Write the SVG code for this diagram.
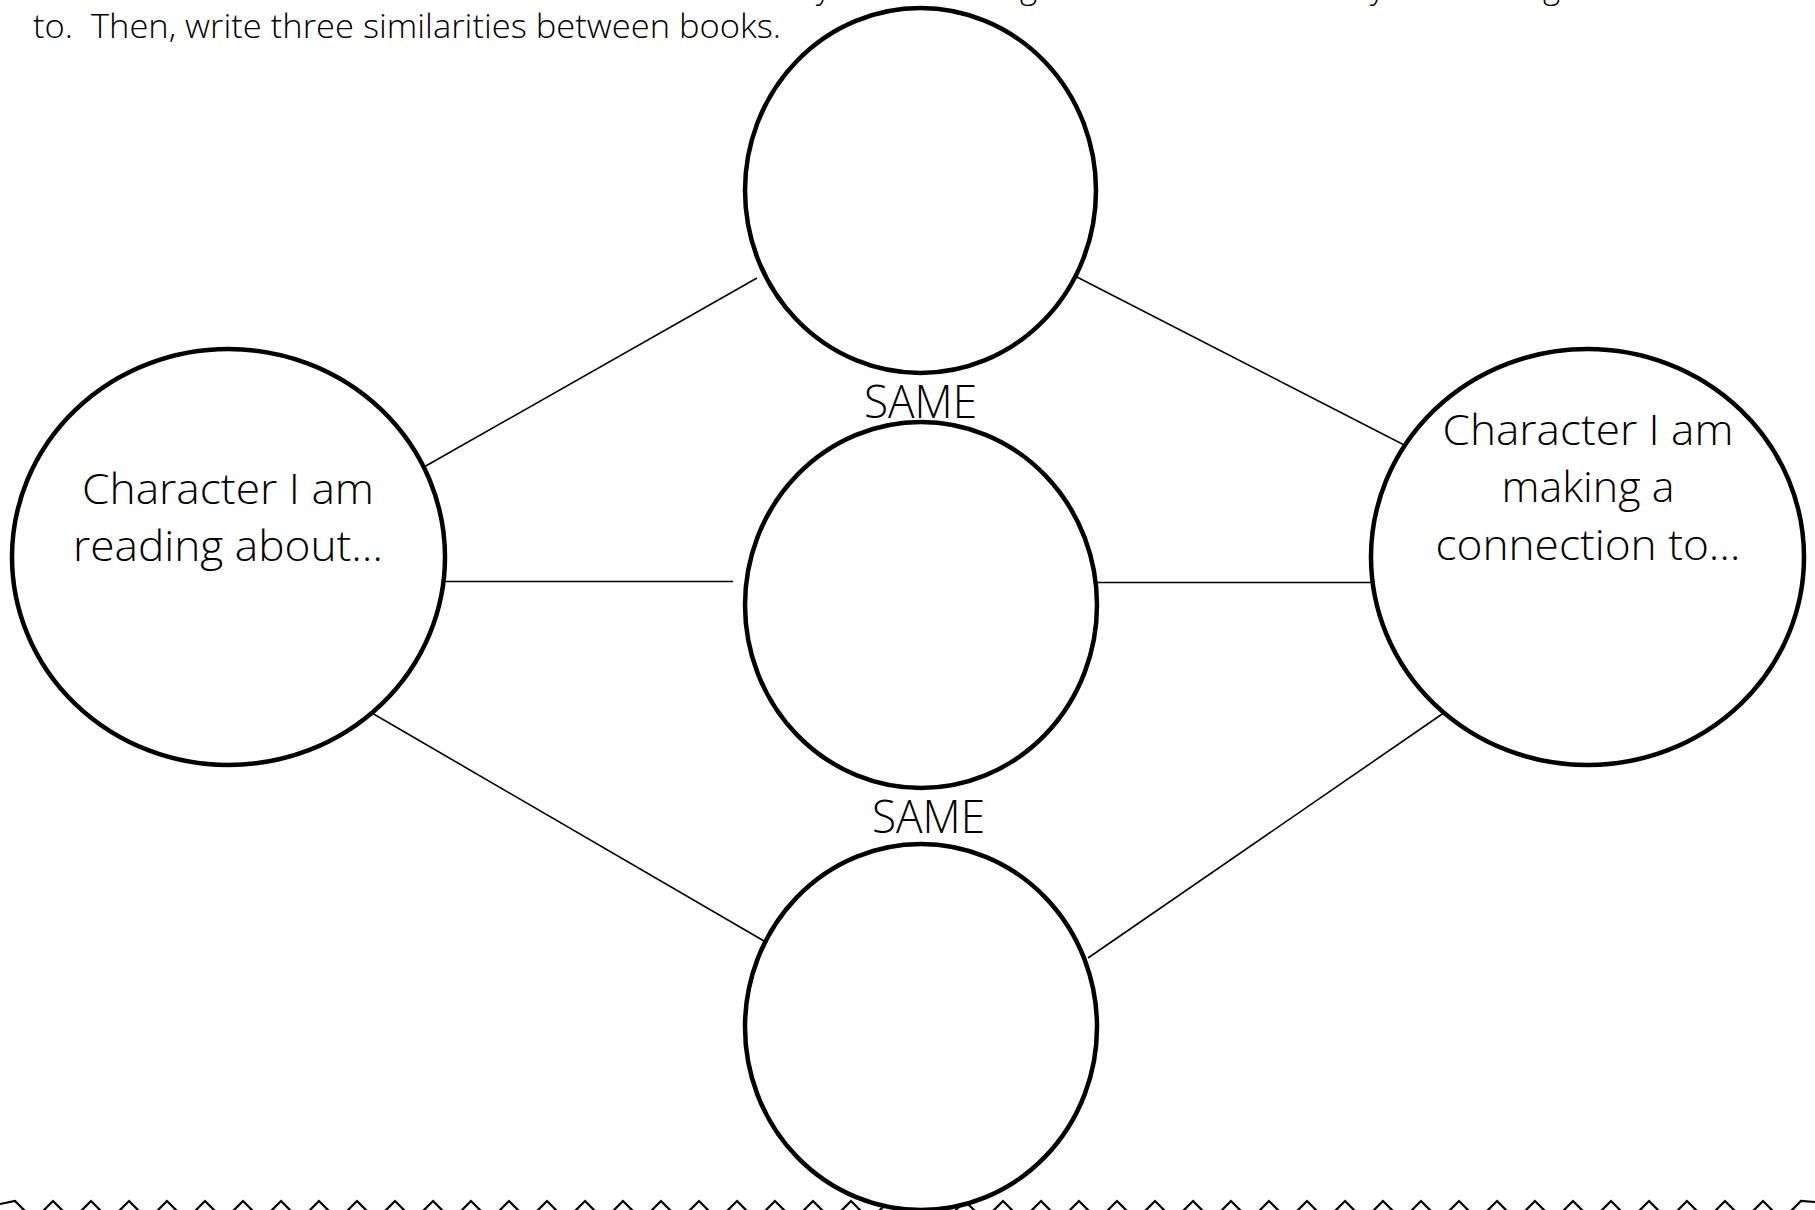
<svg xmlns="http://www.w3.org/2000/svg" width="1815" height="1210" viewBox="0 0 1815 1210">
<style>
text { font-family: "Open Sans", "Noto Sans", "Liberation Sans", sans-serif; font-weight: 300; fill: #000; }
.label { font-size: 43px; text-anchor: middle; }
.same { font-size: 46px; text-anchor: middle; }
.instr { font-size: 33px; white-space: pre; }
.node { fill: #fff; stroke: #000; stroke-width: 4.5; }
.conn { stroke: #000; stroke-width: 1.6; fill: none; }
.zig { stroke: #000; stroke-width: 2.2; fill: none; stroke-linejoin: miter; }
</style>
<rect width="1815" height="1210" fill="#fff"/>
<g id="header">
  <text class="instr" x="816" y="-2">y</text>
  <text class="instr" x="1020" y="-2">g</text>
  <text class="instr" x="1370" y="-2">y</text>
  <text class="instr" x="1543" y="-2">g</text>
  <text class="instr" x="33" y="38" textLength="748" lengthAdjust="spacingAndGlyphs" xml:space="preserve">to.  Then, write three similarities between books.</text>
</g>
<g id="border">
  <polyline class="zig" points="0,1204 15,1201 34,1220 53,1201 72,1220 91,1201 110,1220 129,1201 148,1220 167,1201 186,1220 205,1201 224,1220 243,1201 262,1220 281,1201 300,1220 319,1201 338,1220 357,1201 376,1220 395,1201 414,1220 433,1201 452,1220 471,1201 490,1220 509,1201 528,1220 547,1201 566,1220 585,1201 604,1220 623,1201 642,1220 661,1201 680,1220 699,1201 718,1220 737,1201 756,1220 775,1201 794,1220 813,1201 832,1220 851,1201 870,1220 889,1201 908,1220 927,1201 946,1220 965,1201 984,1220 1003,1201 1022,1220 1041,1201 1060,1220 1079,1201 1098,1220 1117,1201 1136,1220 1155,1201 1174,1220 1193,1201 1212,1220 1231,1201 1250,1220 1269,1201 1288,1220 1307,1201 1326,1220 1345,1201 1364,1220 1383,1201 1402,1220 1421,1201 1440,1220 1459,1201 1478,1220 1497,1201 1516,1220 1535,1201 1554,1220 1573,1201 1592,1220 1611,1201 1630,1220 1649,1201 1668,1220 1687,1201 1706,1220 1725,1201 1744,1220 1763,1201 1782,1220 1801,1201 1815,1202"/>
</g>
<g id="connectors">
  <line class="conn" x1="424" y1="467" x2="757" y2="278"/>
  <line class="conn" x1="1073" y1="275" x2="1410" y2="448"/>
  <line class="conn" x1="445" y1="581.5" x2="733" y2="581.5"/>
  <line class="conn" x1="1085" y1="582.5" x2="1371" y2="582.5"/>
  <line class="conn" x1="365" y1="709" x2="764" y2="941"/>
  <line class="conn" x1="1088" y1="958" x2="1448" y2="710"/>
</g>
<g id="node-top">
  <ellipse class="node" cx="920.5" cy="190.5" rx="175.5" ry="182.5"/>
</g>
<g id="label-same-1">
  <text class="same" x="920.5" y="418" textLength="113" lengthAdjust="spacingAndGlyphs">SAME</text>
</g>
<g id="node-middle">
  <ellipse class="node" cx="921" cy="605" rx="176" ry="183"/>
</g>
<g id="label-same-2">
  <text class="same" x="928.5" y="833" textLength="113" lengthAdjust="spacingAndGlyphs">SAME</text>
</g>
<g id="node-bottom">
  <ellipse class="node" cx="921" cy="1027" rx="176" ry="183"/>
</g>
<g id="node-left">
  <ellipse class="node" cx="228.5" cy="557" rx="216.5" ry="208"/>
  <text class="label" x="228" y="504" textLength="292" lengthAdjust="spacingAndGlyphs">Character I am</text>
  <text class="label" x="228" y="561" textLength="310" lengthAdjust="spacingAndGlyphs">reading about…</text>
</g>
<g id="node-right">
  <ellipse class="node" cx="1587.5" cy="557" rx="216.5" ry="208"/>
  <text class="label" x="1588" y="445" textLength="291" lengthAdjust="spacingAndGlyphs">Character I am</text>
  <text class="label" x="1588" y="502">making a</text>
  <text class="label" x="1588" y="560" textLength="305" lengthAdjust="spacingAndGlyphs">connection to…</text>
</g>
</svg>
